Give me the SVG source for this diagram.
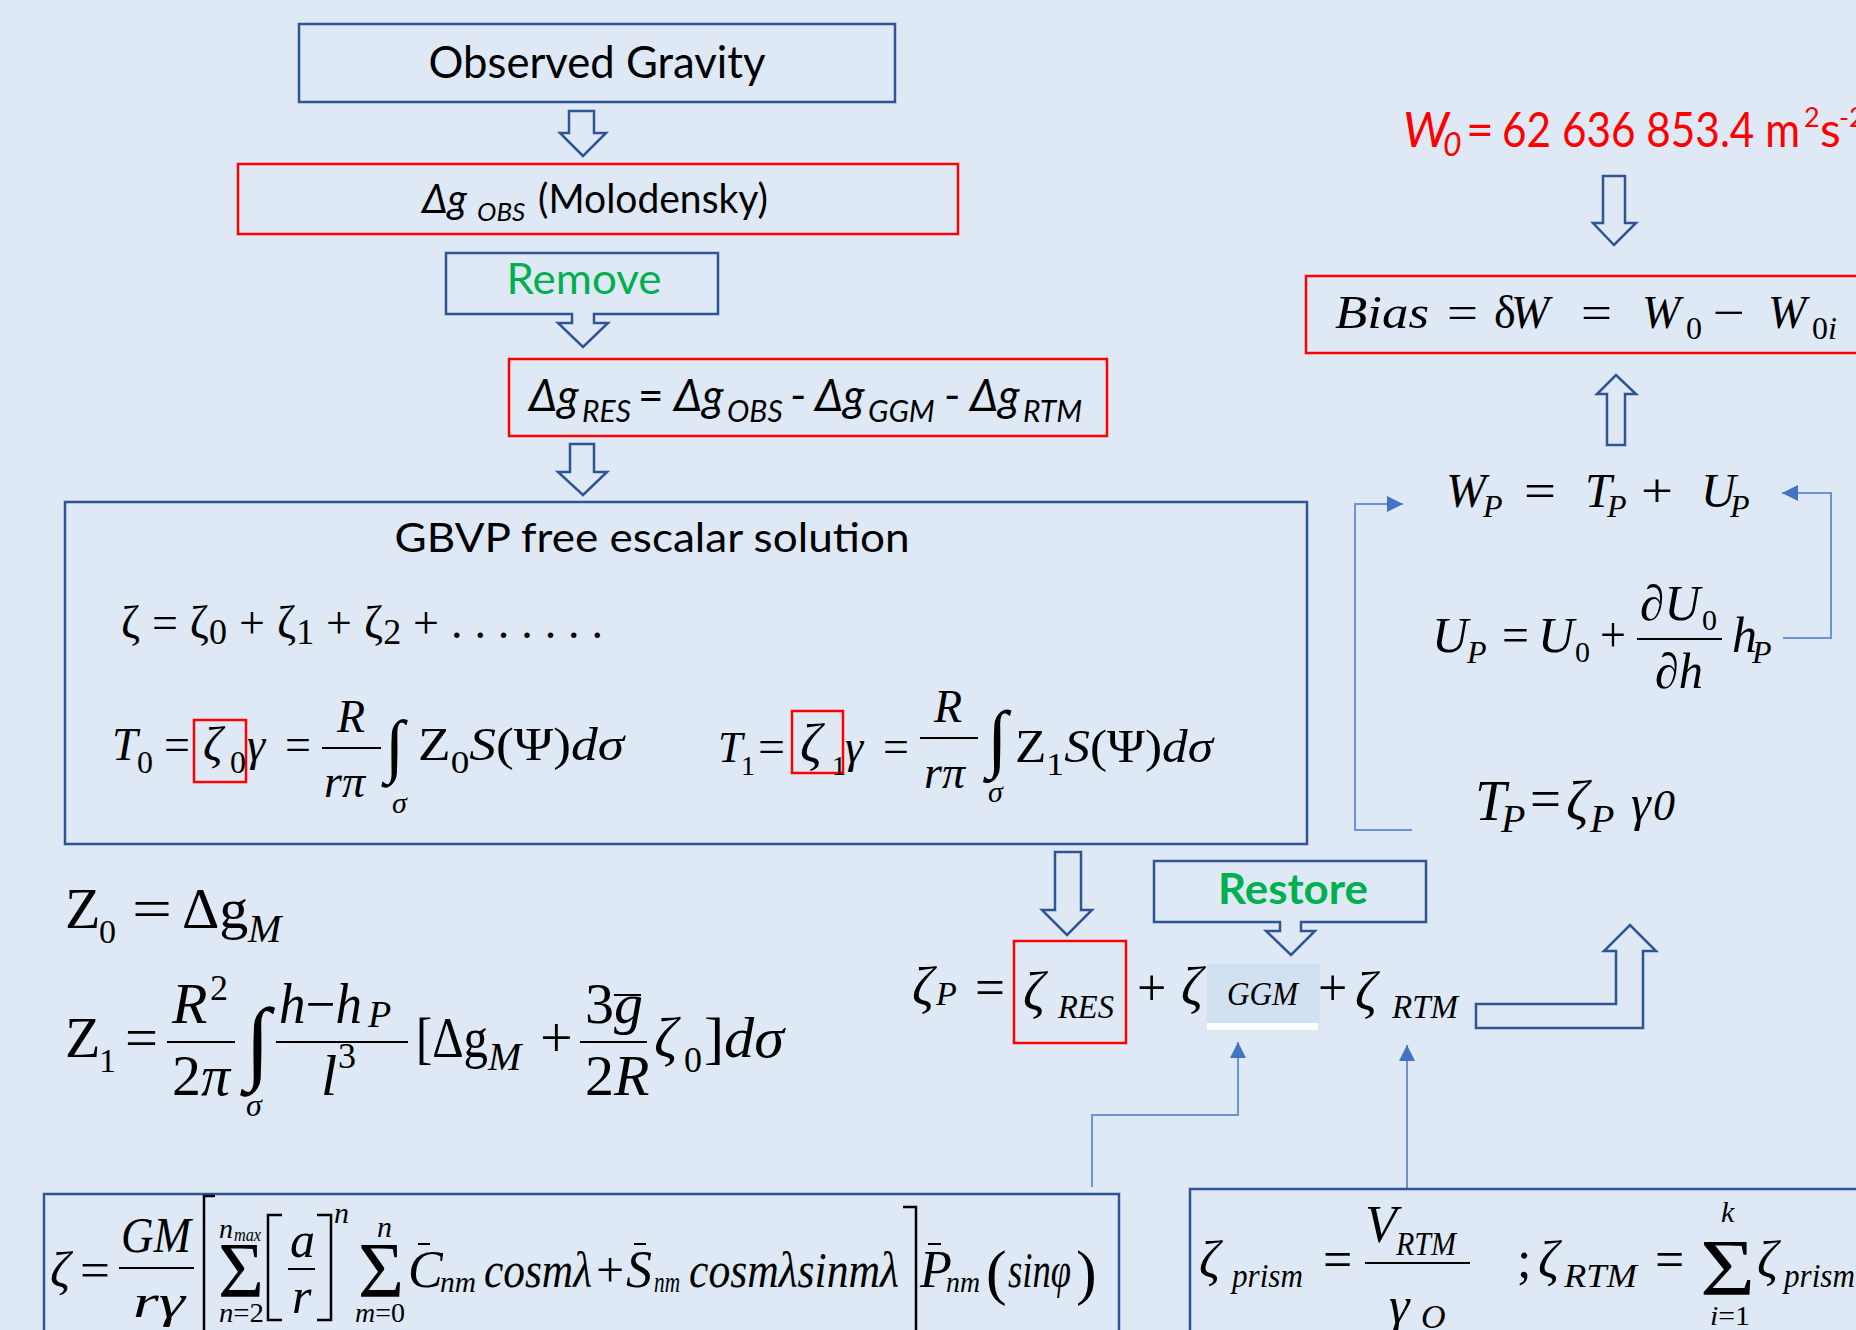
<svg xmlns="http://www.w3.org/2000/svg" width="1856" height="1330" viewBox="0 0 1856 1330">
<defs>
<style>
.cal{font-family:Lato,"Liberation Sans",sans-serif}
.tm{font-family:"Liberation Serif","DejaVu Serif",serif;fill:#000}
.it{font-style:italic}
.bb{fill:none;stroke:#2F5597;stroke-width:2.5}
.br{fill:none;stroke:#FF0000;stroke-width:2.5}
.blk{fill:#DEE9F5;stroke:#2F5597;stroke-width:2.5}
.fr{stroke:#000;stroke-width:2}
.fence{fill:none;stroke:#000;stroke-width:2.5}
.conn{fill:none;stroke:#6F93D3;stroke-width:2}
.grn{fill:#00B050}
</style>
<marker id="ah" markerUnits="userSpaceOnUse" markerWidth="16" markerHeight="16" refX="16" refY="8" orient="auto">
<path d="M0,0 L16,8 L0,16 Z" fill="#4472C4"/>
</marker>
</defs>
<rect width="1856" height="1330" fill="#DEE9F5"/>

<g id="connectors">
<path class="blk" d="M583,156 L560,133 H569 V111 H594 V133 H606 Z"/>
<path class="blk" d="M570,444 H594 V472 H607 L583,495 L558,472 H570 Z"/>
<path class="blk" d="M1055,852 H1081 V910 H1092 L1067,935 L1042,910 H1055 Z"/>
<path class="blk" d="M1603,176 H1625 V223 H1636 L1614,245 L1593,223 H1603 Z"/>
<path class="blk" d="M1607,445 V394 H1597 L1616,375 L1636,394 H1625 V445 Z"/>
<path class="blk" d="M1476,1004 H1616 V951 H1604 L1630,925 L1656,951 H1643 V1028 H1476 Z"/>
<path class="conn" d="M1092,1187 V1115 H1238 V1042" marker-end="url(#ah)"/>
<path class="conn" d="M1407,1189 V1045" marker-end="url(#ah)"/>
<path class="conn" d="M1412,830 H1355 V504 H1403" marker-end="url(#ah)"/>
<path class="conn" d="M1783,638 H1831 V493 H1782" marker-end="url(#ah)"/>
</g>

<g id="observed-gravity">
<rect class="bb" x="299" y="24" width="596" height="78"/>
<text class="cal" x="597" y="78" font-size="44" text-anchor="middle" textLength="337" lengthAdjust="spacingAndGlyphs">Observed Gravity</text>
</g>

<g id="dg-obs">
<rect class="br" x="238" y="164" width="720" height="70"/>
<text class="cal it" x="422" y="213" font-size="40">Δg</text>
<text class="cal it" x="477" y="221" font-size="26">OBS</text>
<text class="cal" x="538" y="213" font-size="40" textLength="230" lengthAdjust="spacingAndGlyphs">(Molodensky)</text>
</g>

<g id="remove">
<path class="blk" d="M446,253 H718 V314 H594 V323 H608 L583,347 L558,323 H572 V314 H446 Z"/>
<text class="cal grn" x="584" y="294" font-size="42" text-anchor="middle" textLength="155" lengthAdjust="spacingAndGlyphs">Remove</text>
</g>

<g id="dg-res">
<rect class="br" x="509" y="359" width="598" height="77"/>
<g class="cal it" font-size="44">
<text x="529" y="411">Δg</text>
<text x="582" y="422" font-size="30">RES</text>
<text x="638" y="411" font-style="normal">=</text>
<text x="674" y="411">Δg</text>
<text x="727" y="422" font-size="30">OBS</text>
<text x="790" y="411" font-style="normal">-</text>
<text x="815" y="411">Δg</text>
<text x="868" y="422" font-size="30">GGM</text>
<text x="944" y="411" font-style="normal">-</text>
<text x="970" y="411">Δg</text>
<text x="1023" y="422" font-size="30">RTM</text>
</g>
</g>

<g id="gbvp">
<rect class="bb" x="65" y="502" width="1242" height="342"/>
<text class="cal" x="652" y="552" font-size="41" text-anchor="middle" textLength="515" lengthAdjust="spacingAndGlyphs">GBVP free escalar solution</text>
<text class="tm" x="121" y="638" font-size="46" textLength="482" lengthAdjust="spacing">ζ = ζ<tspan font-size="36" dy="6">0</tspan><tspan dy="-6"> + ζ</tspan><tspan font-size="36" dy="6">1</tspan><tspan dy="-6"> + ζ</tspan><tspan font-size="36" dy="6">2</tspan><tspan dy="-6"> + . . . . . . .</tspan></text>
<text class="tm it" x="112" y="760" font-size="46">T</text>
<text class="tm" x="137" y="773" font-size="32">0</text>
<text class="tm" x="164" y="760" font-size="46">=</text>
<rect class="br" x="194" y="720" width="52" height="62"/>
<text class="tm it" x="203" y="760" font-size="48">ζ</text>
<text class="tm" x="230" y="773" font-size="32">0</text>
<text class="tm it" x="247" y="760" font-size="46">γ</text>
<text class="tm" x="285" y="760" font-size="46">=</text>
<text class="tm it" x="337" y="732" font-size="46">R</text>
<line class="fr" x1="322" y1="748" x2="381" y2="748"/>
<text class="tm it" x="324" y="797" font-size="46">rπ</text>
<text class="tm" x="385" y="769" font-size="70">∫</text>
<text class="tm it" x="392" y="813" font-size="30">σ</text>
<text class="tm" x="418" y="760" font-size="46" textLength="206" lengthAdjust="spacingAndGlyphs">Z<tspan font-size="32" dy="13">0</tspan><tspan font-style="italic" dy="-13">S</tspan>(Ψ)<tspan font-style="italic">dσ</tspan></text>
<text class="tm it" x="718" y="762" font-size="44">T</text>
<text class="tm" x="741" y="775" font-size="28">1</text>
<text class="tm" x="758" y="762" font-size="46" textLength="27" lengthAdjust="spacingAndGlyphs">=</text>
<rect class="br" x="792" y="711" width="51" height="62"/>
<text class="tm it" x="800" y="762" font-size="54">ζ</text>
<text class="tm" x="832" y="775" font-size="28">1</text>
<text class="tm it" x="845" y="762" font-size="46">γ</text>
<text class="tm" x="883" y="762" font-size="46">=</text>
<text class="tm it" x="934" y="722" font-size="46">R</text>
<line class="fr" x1="920" y1="738" x2="978" y2="738"/>
<text class="tm it" x="924" y="788" font-size="46">rπ</text>
<text class="tm" x="987" y="763" font-size="75">∫</text>
<text class="tm it" x="988" y="802" font-size="30">σ</text>
<text class="tm" x="1015" y="762" font-size="46" textLength="198" lengthAdjust="spacingAndGlyphs">Z<tspan font-size="32" dy="13">1</tspan><tspan font-style="italic" dy="-13">S</tspan>(Ψ)<tspan font-style="italic">dσ</tspan></text>
</g>

<g id="z-terms">
<text class="tm" x="65" y="928" font-size="58">Z</text>
<text class="tm" x="99" y="943" font-size="34">0</text>
<text class="tm" x="132" y="928" font-size="58" textLength="40" lengthAdjust="spacingAndGlyphs">=</text>
<text class="tm" x="182" y="928" font-size="58">Δg</text>
<text class="tm it" x="248" y="942" font-size="40">M</text>

<text class="tm" x="65" y="1057" font-size="58">Z</text>
<text class="tm" x="99" y="1072" font-size="34">1</text>
<text class="tm" x="125" y="1057" font-size="58" textLength="33" lengthAdjust="spacingAndGlyphs">=</text>
<text class="tm it" x="172" y="1023" font-size="58">R</text>
<text class="tm" x="210" y="1000" font-size="36">2</text>
<line class="fr" x1="167" y1="1042" x2="235" y2="1042"/>
<text class="tm" x="172" y="1095" font-size="58">2<tspan font-style="italic">π</tspan></text>
<text class="tm" x="245" y="1072" font-size="92">∫</text>
<text class="tm it" x="246" y="1116" font-size="32">σ</text>
<text class="tm it" x="279" y="1023" font-size="56" textLength="83" lengthAdjust="spacingAndGlyphs">h<tspan font-style="normal">−</tspan>h</text>
<text class="tm it" x="368" y="1027" font-size="38">P</text>
<line class="fr" x1="276" y1="1042" x2="408" y2="1042"/>
<text class="tm it" x="321" y="1095" font-size="58">l</text>
<text class="tm" x="338" y="1068" font-size="36">3</text>
<text class="tm" x="416" y="1057" font-size="58" textLength="72" lengthAdjust="spacingAndGlyphs">[Δg</text>
<text class="tm it" x="488" y="1070" font-size="40">M</text>
<text class="tm" x="540" y="1057" font-size="58">+</text>
<text class="tm" x="585" y="1023" font-size="58">3<tspan font-style="italic">g</tspan></text>
<line class="fr" x1="614" y1="995" x2="641" y2="995"/>
<line class="fr" x1="580" y1="1042" x2="647" y2="1042"/>
<text class="tm" x="585" y="1095" font-size="58">2<tspan font-style="italic">R</tspan></text>
<text class="tm it" x="654" y="1057" font-size="58">ζ</text>
<text class="tm" x="684" y="1072" font-size="36">0</text>
<text class="tm" x="704" y="1057" font-size="58" textLength="80" lengthAdjust="spacingAndGlyphs">]<tspan font-style="italic">dσ</tspan></text>
</g>

<g id="zeta-p">
<text class="tm it" x="912" y="1005" font-size="54">ζ</text>
<text class="tm it" x="936" y="1005" font-size="34">P</text>
<text class="tm" x="975" y="1005" font-size="52" textLength="30" lengthAdjust="spacingAndGlyphs">=</text>
<rect class="br" x="1014" y="941" width="112" height="102"/>
<text class="tm it" x="1023" y="1010" font-size="54">ζ</text>
<text class="tm it" x="1058" y="1018" font-size="34" textLength="56" lengthAdjust="spacingAndGlyphs">RES</text>
<text class="tm" x="1137" y="1005" font-size="52">+</text>
<rect x="1207" y="964" width="113" height="59" fill="#D2E1F1"/>
<rect x="1207" y="1023" width="111" height="7" fill="#FFFFFF"/>
<text class="tm it" x="1181" y="1005" font-size="54">ζ</text>
<text class="tm it" x="1227" y="1005" font-size="34" textLength="71" lengthAdjust="spacingAndGlyphs">GGM</text>
<text class="tm" x="1318" y="1005" font-size="52">+</text>
<text class="tm it" x="1355" y="1010" font-size="54">ζ</text>
<text class="tm it" x="1392" y="1018" font-size="34" textLength="66" lengthAdjust="spacingAndGlyphs">RTM</text>
</g>

<g id="restore">
<path class="blk" d="M1154,861 H1426 V922 H1301 V931 H1315 L1291,955 L1266,931 H1280 V922 H1154 Z"/>
<text class="cal grn" x="1293" y="904" font-size="42" font-weight="bold" text-anchor="middle" textLength="150" lengthAdjust="spacingAndGlyphs">Restore</text>
</g>

<g id="w0">
<text class="cal it" x="1403" y="147" font-size="48" fill="#FF0000">W</text>
<text class="cal it" x="1443" y="156" font-size="32" fill="#FF0000">0</text>
<text class="cal" x="1466" y="147" font-size="48" fill="#FF0000">=</text>
<text class="cal" x="1502" y="147" font-size="48" fill="#FF0000" textLength="298" lengthAdjust="spacingAndGlyphs">62 636 853.4 m</text>
<text class="cal" x="1804" y="127" font-size="27" fill="#FF0000">2</text>
<text class="cal" x="1820" y="147" font-size="48" fill="#FF0000">s</text>
<text class="cal" x="1839" y="127" font-size="27" fill="#FF0000">-2</text>
</g>

<g id="bias">
<rect class="br" x="1306" y="276" width="570" height="77"/>
<text class="tm it" x="1335" y="328" font-size="46" textLength="94" lengthAdjust="spacingAndGlyphs">Bias</text>
<text class="tm" x="1447" y="328" font-size="46" textLength="31" lengthAdjust="spacingAndGlyphs">=</text>
<text class="tm" x="1494" y="328" font-size="46">δ</text>
<text class="tm it" x="1511" y="328" font-size="46">W</text>
<text class="tm" x="1581" y="328" font-size="46" textLength="31" lengthAdjust="spacingAndGlyphs">=</text>
<text class="tm it" x="1642" y="328" font-size="46">W</text>
<text class="tm" x="1686" y="339" font-size="32">0</text>
<text class="tm" x="1713" y="328" font-size="46" textLength="32" lengthAdjust="spacingAndGlyphs">−</text>
<text class="tm it" x="1768" y="328" font-size="46">W</text>
<text class="tm" x="1812" y="339" font-size="32">0<tspan font-style="italic">i</tspan></text>
</g>

<g id="wp">
<text class="tm it" x="1446" y="507" font-size="48">W</text>
<text class="tm it" x="1483" y="517" font-size="32">P</text>
<text class="tm" x="1524" y="507" font-size="48" textLength="32" lengthAdjust="spacingAndGlyphs">=</text>
<text class="tm it" x="1585" y="507" font-size="48">T</text>
<text class="tm it" x="1607" y="517" font-size="32">P</text>
<text class="tm" x="1641" y="507" font-size="48" textLength="32" lengthAdjust="spacingAndGlyphs">+</text>
<text class="tm it" x="1701" y="507" font-size="48">U</text>
<text class="tm it" x="1730" y="517" font-size="32">P</text>
</g>

<g id="up">
<text class="tm it" x="1432" y="652" font-size="50">U</text>
<text class="tm it" x="1467" y="663" font-size="32">P</text>
<text class="tm" x="1502" y="652" font-size="50" textLength="27" lengthAdjust="spacingAndGlyphs">=</text>
<text class="tm it" x="1538" y="652" font-size="50">U</text>
<text class="tm" x="1575" y="662" font-size="30">0</text>
<text class="tm" x="1600" y="652" font-size="50" textLength="26" lengthAdjust="spacingAndGlyphs">+</text>
<text class="tm" x="1640" y="620" font-size="50" textLength="60" lengthAdjust="spacingAndGlyphs">∂<tspan font-style="italic">U</tspan></text>
<text class="tm" x="1702" y="630" font-size="30">0</text>
<line class="fr" x1="1637" y1="639" x2="1722" y2="639"/>
<text class="tm" x="1655" y="688" font-size="50" textLength="48" lengthAdjust="spacingAndGlyphs">∂<tspan font-style="italic">h</tspan></text>
<text class="tm it" x="1732" y="652" font-size="50">h</text>
<text class="tm it" x="1752" y="663" font-size="32">P</text>
</g>

<g id="tp">
<text class="tm it" x="1475" y="820" font-size="56">T</text>
<text class="tm it" x="1501" y="832" font-size="40">P</text>
<text class="tm" x="1530" y="818" font-size="56" textLength="31" lengthAdjust="spacingAndGlyphs">=</text>
<text class="tm it" x="1566" y="820" font-size="56">ζ</text>
<text class="tm it" x="1590" y="832" font-size="40">P</text>
<text class="tm it" x="1631" y="820" font-size="50">γ</text>
<text class="tm it" x="1653" y="820" font-size="44">0</text>
</g>

<g id="ggm-formula">
<rect class="bb" x="44" y="1194" width="1075" height="160"/>
<text class="tm it" x="50" y="1287" font-size="50">ζ</text>
<text class="tm" x="80" y="1287" font-size="50" textLength="30" lengthAdjust="spacingAndGlyphs">=</text>
<text class="tm it" x="121" y="1252" font-size="50" textLength="70" lengthAdjust="spacingAndGlyphs">GM</text>
<line class="fr" x1="119" y1="1268" x2="194" y2="1268"/>
<text class="tm it" x="133" y="1317" font-size="46" textLength="52" lengthAdjust="spacingAndGlyphs">rγ</text>
<path class="fence" d="M215,1196 H204 V1345"/>
<path class="fence" d="M903,1207 H916 V1345"/>
<text class="tm it" x="219" y="1238" font-size="28">n</text>
<text class="tm it" x="234" y="1241" font-size="18" textLength="27" lengthAdjust="spacingAndGlyphs">max</text>
<text class="tm" x="218" y="1296" font-size="78" textLength="46" lengthAdjust="spacingAndGlyphs">Σ</text>
<text class="tm" x="219" y="1322" font-size="28" textLength="45" lengthAdjust="spacingAndGlyphs"><tspan font-style="italic">n</tspan>=2</text>
<path class="fence" d="M282,1215 H268 V1320 H282"/>
<path class="fence" d="M317,1215 H331 V1320 H317"/>
<text class="tm it" x="290" y="1257" font-size="50">a</text>
<line class="fr" x1="288" y1="1269" x2="315" y2="1269"/>
<text class="tm it" x="292" y="1313" font-size="50">r</text>
<text class="tm it" x="334" y="1223" font-size="30">n</text>
<text class="tm" x="358" y="1296" font-size="78" textLength="46" lengthAdjust="spacingAndGlyphs">Σ</text>
<text class="tm it" x="377" y="1237" font-size="30">n</text>
<text class="tm" x="355" y="1322" font-size="28" textLength="50" lengthAdjust="spacingAndGlyphs"><tspan font-style="italic">m</tspan>=0</text>
<text class="tm it" x="408" y="1287" font-size="52">C</text>
<line class="fr" x1="418" y1="1244" x2="430" y2="1244"/>
<text class="tm it" x="440" y="1292" font-size="30" textLength="36" lengthAdjust="spacingAndGlyphs">nm</text>
<text class="tm it" x="484" y="1287" font-size="50" textLength="108" lengthAdjust="spacingAndGlyphs">cosmλ</text>
<text class="tm" x="596" y="1287" font-size="50">+</text>
<text class="tm it" x="626" y="1287" font-size="52">S</text>
<line class="fr" x1="634" y1="1244" x2="646" y2="1244"/>
<text class="tm it" x="654" y="1292" font-size="30" textLength="26" lengthAdjust="spacingAndGlyphs">nm</text>
<text class="tm it" x="689" y="1287" font-size="50" textLength="210" lengthAdjust="spacingAndGlyphs">cosmλsinmλ</text>
<text class="tm it" x="920" y="1287" font-size="52">P</text>
<line class="fr" x1="928" y1="1244" x2="941" y2="1244"/>
<text class="tm it" x="946" y="1292" font-size="30" textLength="34" lengthAdjust="spacingAndGlyphs">nm</text>
<text class="tm" x="986" y="1293" font-size="62">(</text>
<text class="tm it" x="1008" y="1287" font-size="50" textLength="63" lengthAdjust="spacingAndGlyphs">sinφ</text>
<text class="tm" x="1076" y="1293" font-size="62">)</text>
</g>

<g id="rtm-formula">
<rect class="bb" x="1190" y="1189" width="700" height="170"/>
<text class="tm it" x="1199" y="1277" font-size="52">ζ</text>
<text class="tm it" x="1232" y="1287" font-size="34" textLength="71" lengthAdjust="spacingAndGlyphs">prism</text>
<text class="tm" x="1323" y="1277" font-size="52">=</text>
<text class="tm it" x="1365" y="1242" font-size="52">V</text>
<text class="tm it" x="1396" y="1255" font-size="34" textLength="60" lengthAdjust="spacingAndGlyphs">RTM</text>
<line class="fr" x1="1365" y1="1263" x2="1470" y2="1263"/>
<text class="tm it" x="1389" y="1323" font-size="52">γ</text>
<text class="tm it" x="1421" y="1328" font-size="34">O</text>
<text class="tm" x="1517" y="1277" font-size="52">;</text>
<text class="tm it" x="1538" y="1277" font-size="52">ζ</text>
<text class="tm it" x="1564" y="1287" font-size="34" textLength="73" lengthAdjust="spacingAndGlyphs">RTM</text>
<text class="tm" x="1655" y="1277" font-size="52">=</text>
<text class="tm" x="1700" y="1295" font-size="80" textLength="55" lengthAdjust="spacingAndGlyphs">Σ</text>
<text class="tm it" x="1721" y="1222" font-size="30">k</text>
<text class="tm" x="1710" y="1325" font-size="28" textLength="40" lengthAdjust="spacingAndGlyphs"><tspan font-style="italic">i</tspan>=1</text>
<text class="tm it" x="1757" y="1277" font-size="52">ζ</text>
<text class="tm it" x="1784" y="1287" font-size="34" textLength="71" lengthAdjust="spacingAndGlyphs">prism</text>
</g>
</svg>
